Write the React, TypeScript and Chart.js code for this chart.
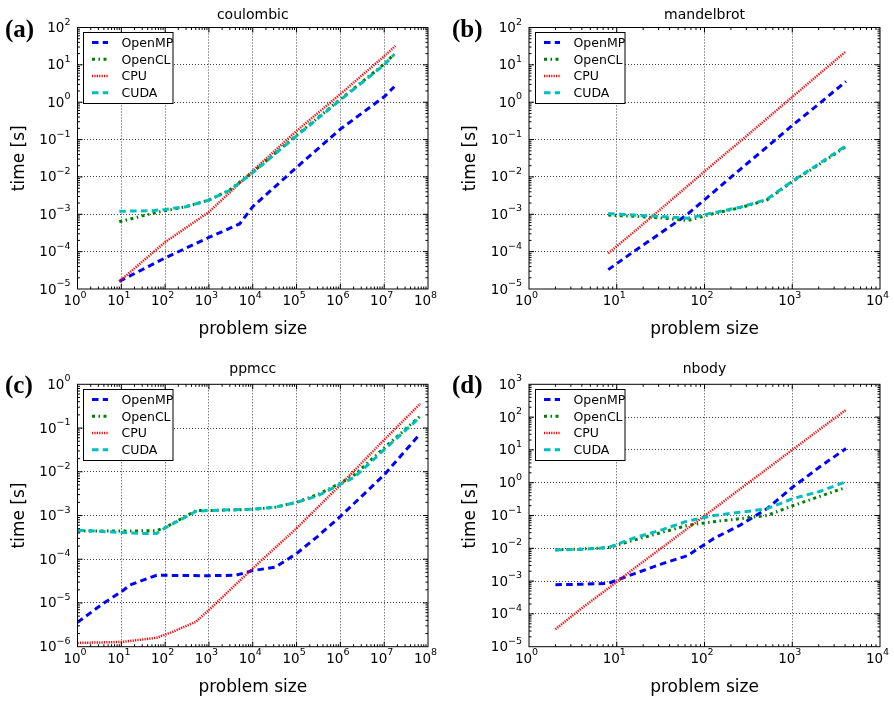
import React, { useEffect, useRef } from 'react';
import { Chart, registerables } from 'chart.js';

Chart.register(...registerables);

// ---------------- data ----------------
const SERIES_NAMES = ['OpenMP', 'OpenCL', 'CPU', 'CUDA'];

// (a) coulombic
const coulombicOpenMPX = [9, 100, 1000, 5000, 1e4, 1e5, 1e6, 1e7, 1.7e7];
const coulombicOpenMPY = [1.6e-5, 6.8e-5, 2.4e-4, 5.5e-4, 1.6e-3, 1.8e-2, 0.19, 1.4, 2.6];
const coulombicOpenCLX = [9, 20, 50, 100, 300, 1000, 3000, 1e4, 1e5, 1e6, 1e7, 1.7e7];
const coulombicOpenCLY = [6.3e-4, 8e-4, 1.05e-3, 1.25e-3, 1.6e-3, 2.4e-3, 4.5e-3, 1.35e-2, 0.13, 1.2, 10.5, 19.5];
const coulombicCPUX = [9, 100, 1000, 1e4, 1e5, 1e6, 1e7, 1.8e7];
const coulombicCPUY = [1.6e-5, 1.8e-4, 1.15e-3, 1.45e-2, 0.17, 1.65, 17, 32];
const coulombicCUDAX = [9, 50, 100, 300, 1000, 3000, 1e4, 1e5, 1e6, 1e7, 1.7e7];
const coulombicCUDAY = [1.2e-3, 1.25e-3, 1.35e-3, 1.6e-3, 2.4e-3, 4.4e-3, 1.3e-2, 0.125, 1.15, 10, 19];

// (b) mandelbrot
const mandelbrotX = [8, 16, 32, 64, 128, 256, 512, 1024, 2048, 4096];
const mandelbrotOpenMPY = [3.3e-5, 1.05e-4, 3.2e-4, 1e-3, 4e-3, 1.6e-2, 6.3e-2, 0.25, 0.93, 3.6];
const mandelbrotOpenCLY = [9.5e-4, 8.8e-4, 8e-4, 6.8e-4, 1.05e-3, 1.5e-3, 2.4e-3, 7.8e-3, 2.2e-2, 6.5e-2];
const mandelbrotCPUY = [9e-5, 3.5e-4, 1.4e-3, 5.7e-3, 2.3e-2, 9e-2, 0.36, 1.45, 5.8, 23];
const mandelbrotCUDAY = [1.05e-3, 9.5e-4, 8.7e-4, 7.8e-4, 1.1e-3, 1.55e-3, 2.5e-3, 8e-3, 2.3e-2, 6.8e-2];

// (c) ppmcc
const ppmccOpenMPX = [1, 4, 10, 16, 64, 1000, 4096, 1e4, 32768, 1e5, 3e5, 1e6, 1e7, 6.7e7];
const ppmccOpenMPY = [3.6e-6, 1e-5, 1.8e-5, 2.6e-5, 4.3e-5, 4.2e-5, 4.3e-5, 5.5e-5, 6.6e-5, 1.35e-4, 3.3e-4, 9.5e-4, 8.5e-3, 7.5e-2];
const ppmccOpenCLX = [1, 10, 64, 100, 512, 1000, 1e4, 32768, 1e5, 3e5, 1e6, 2.1e6, 1e7, 6.7e7];
const ppmccOpenCLY = [4.4e-4, 4.4e-4, 4.5e-4, 5.3e-4, 1.3e-3, 1.3e-3, 1.38e-3, 1.55e-3, 2e-3, 3e-3, 5.5e-3, 8.5e-3, 3.5e-2, 0.19];
const ppmccCPUX = [1, 10, 64, 150, 500, 1000, 1e4, 1e5, 1e6, 1e7, 6.7e7];
const ppmccCPUY = [1.22e-6, 1.28e-6, 1.6e-6, 2.2e-6, 3.7e-6, 6.9e-6, 6.2e-5, 5.1e-4, 5e-3, 5.4e-2, 0.36];
const ppmccCUDAX = [1, 10, 30, 64, 100, 512, 1000, 1e4, 32768, 1e5, 3e5, 1e6, 2.1e6, 1e7, 6.7e7];
const ppmccCUDAY = [4.6e-4, 4.1e-4, 3.9e-4, 3.9e-4, 5.2e-4, 1.25e-3, 1.3e-3, 1.4e-3, 1.55e-3, 2e-3, 2.8e-3, 5.2e-3, 7.5e-3, 3.2e-2, 0.18];

// (d) nbody
const nbodyX = [2, 4, 8, 16, 32, 64, 128, 256, 512, 1024, 2048, 4096];
const nbodyOpenMPY = [7.8e-4, 8e-4, 8.5e-4, 1.7e-3, 3.3e-3, 6e-3, 2e-2, 5.1e-2, 0.16, 0.75, 3, 11];
const nbodyOpenCLY = [9e-3, 9.5e-3, 1.05e-2, 1.8e-2, 3e-2, 5e-2, 6.5e-2, 8e-2, 0.1, 0.2, 0.38, 0.72];
const nbodyCPUY = [3.4e-5, 1.5e-4, 6e-4, 2.5e-3, 1e-2, 4e-2, 0.16, 0.65, 2.6, 10.5, 42, 166];
const nbodyCUDAY = [8.9e-3, 9.3e-3, 1.05e-2, 2.1e-2, 3.6e-2, 6.8e-2, 0.1, 0.125, 0.16, 0.33, 0.54, 1.07];

// ---------------- styles ----------------
const FONT = '"DejaVu Sans", sans-serif';
const SERIES_STYLES = [
  { color: '#0000ff', width: 3, dash: [6.5, 4.3] },
  { color: '#008000', width: 3, dash: [3, 3.5, 1.5, 3.5] },
  { color: '#ff0000', width: 2.5, dash: [1.2, 1.2] },
  { color: '#00bfbf', width: 3, dash: [6.5, 4.3] },
];

type Series = { x: number[]; y: number[] };
type Panel = {
  title: string;
  letter: string;
  series: Series[];
  xExp: [number, number];
  yExp: [number, number];
  box: { cx: number; cy: number; cw: number; ch: number };
  plot: { l: number; t: number; r: number; b: number };
  titleBase: number;
  letterBase: number;
};

const PANELS: Panel[] = [
  {
    title: 'coulombic', letter: '(a)',
    series: [
      { x: coulombicOpenMPX, y: coulombicOpenMPY },
      { x: coulombicOpenCLX, y: coulombicOpenCLY },
      { x: coulombicCPUX, y: coulombicCPUY },
      { x: coulombicCUDAX, y: coulombicCUDAY },
    ],
    xExp: [0, 8], yExp: [-5, 2],
    box: { cx: 0, cy: 0, cw: 447, ch: 350 },
    plot: { l: 77.5, t: 27.5, r: 428, b: 289 },
    titleBase: 19, letterBase: 37,
  },
  {
    title: 'mandelbrot', letter: '(b)',
    series: [
      { x: mandelbrotX, y: mandelbrotOpenMPY },
      { x: mandelbrotX, y: mandelbrotOpenCLY },
      { x: mandelbrotX, y: mandelbrotCPUY },
      { x: mandelbrotX, y: mandelbrotCUDAY },
    ],
    xExp: [0, 4], yExp: [-5, 2],
    box: { cx: 447, cy: 0, cw: 447, ch: 350 },
    plot: { l: 529, t: 27.5, r: 880, b: 289 },
    titleBase: 19, letterBase: 37,
  },
  {
    title: 'ppmcc', letter: '(c)',
    series: [
      { x: ppmccOpenMPX, y: ppmccOpenMPY },
      { x: ppmccOpenCLX, y: ppmccOpenCLY },
      { x: ppmccCPUX, y: ppmccCPUY },
      { x: ppmccCUDAX, y: ppmccCUDAY },
    ],
    xExp: [0, 8], yExp: [-6, 0],
    box: { cx: 0, cy: 350, cw: 447, ch: 351 },
    plot: { l: 77.5, t: 384.3, r: 428, b: 646.7 },
    titleBase: 372.7, letterBase: 392.5,
  },
  {
    title: 'nbody', letter: '(d)',
    series: [
      { x: nbodyX, y: nbodyOpenMPY },
      { x: nbodyX, y: nbodyOpenCLY },
      { x: nbodyX, y: nbodyCPUY },
      { x: nbodyX, y: nbodyCUDAY },
    ],
    xExp: [0, 4], yExp: [-5, 3],
    box: { cx: 447, cy: 350, cw: 447, ch: 351 },
    plot: { l: 529, t: 384.3, r: 880, b: 646.7 },
    titleBase: 373, letterBase: 392.5,
  },
];

function drawPow(ctx: CanvasRenderingContext2D, exp: number, x: number, base: number, align: 'center' | 'right') {
  const main = '10';
  const sup = exp < 0 ? '\u2212' + String(-exp) : String(exp);
  ctx.font = `13.5px ${FONT}`;
  const wm = ctx.measureText(main).width;
  ctx.font = `9.5px ${FONT}`;
  const ws = ctx.measureText(sup).width;
  const total = wm + ws;
  const left = align === 'center' ? x - total / 2 - 2.5 : x - total;
  ctx.textAlign = 'left';
  ctx.textBaseline = 'alphabetic';
  ctx.fillStyle = '#000';
  ctx.font = `13.5px ${FONT}`;
  ctx.fillText(main, left, base);
  ctx.font = `9.5px ${FONT}`;
  ctx.fillText(sup, left + wm, base - 7.5);
}

function decorPlugin(p: Panel) {
  return {
    id: 'decor',
    afterDraw(chart: any) {
      const ctx: CanvasRenderingContext2D = chart.ctx;
      const xs = chart.scales.x;
      const ys = chart.scales.y;
      const { left, right, top, bottom } = chart.chartArea;
      const oy = p.box.cy;
      ctx.save();
      // frame
      ctx.setLineDash([]);
      ctx.strokeStyle = '#000';
      ctx.lineWidth = 1;
      ctx.strokeRect(left, top, right - left, bottom - top);
      // inward ticks (major + minor) on all four sides
      ctx.beginPath();
      for (let e = p.xExp[0]; e < p.xExp[1]; e++) {
        for (let k = 1; k <= 9; k++) {
          if (k === 1 && e === p.xExp[0]) continue;
          const px = xs.getPixelForValue(k * Math.pow(10, e));
          const len = k === 1 ? 5 : 2.5;
          ctx.moveTo(px, bottom); ctx.lineTo(px, bottom - len);
          ctx.moveTo(px, top); ctx.lineTo(px, top + len);
        }
      }
      for (let e = p.yExp[0]; e < p.yExp[1]; e++) {
        for (let k = 1; k <= 9; k++) {
          if (k === 1 && e === p.yExp[0]) continue;
          const py = ys.getPixelForValue(k * Math.pow(10, e));
          const len = k === 1 ? 5 : 2.5;
          ctx.moveTo(left, py); ctx.lineTo(left + len, py);
          ctx.moveTo(right, py); ctx.lineTo(right - len, py);
        }
      }
      ctx.stroke();
      // tick labels
      for (let e = p.xExp[0]; e <= p.xExp[1]; e++) {
        const px = xs.getPixelForValue(Math.pow(10, e));
        drawPow(ctx, e, px, bottom + 16, 'center');
      }
      for (let e = p.yExp[0]; e <= p.yExp[1]; e++) {
        const py = ys.getPixelForValue(Math.pow(10, e));
        drawPow(ctx, e, left - 7, py + 4.5, 'right');
      }
      // title
      ctx.fillStyle = '#000';
      ctx.font = `14px ${FONT}`;
      ctx.textAlign = 'center';
      ctx.textBaseline = 'alphabetic';
      ctx.fillText(p.title, (left + right) / 2, p.titleBase - oy);
      // axis labels
      ctx.font = `17px ${FONT}`;
      ctx.fillText('problem size', (left + right) / 2, bottom + 45);
      ctx.save();
      ctx.translate(left - 54, (top + bottom) / 2);
      ctx.rotate(-Math.PI / 2);
      ctx.fillText('time [s]', 0, 0);
      ctx.restore();
      // panel letter
      ctx.font = `bold 25px "Liberation Serif", serif`;
      ctx.textAlign = 'left';
      ctx.fillText(p.letter, 5, p.letterBase - oy);
      // legend
      const lx = Math.round(left + 5.5) + 0.5;
      const ly = Math.round(top + 4.5) + 0.5;
      const lw = 89.5;
      const lh = 71;
      ctx.fillStyle = '#fff';
      ctx.fillRect(lx, ly, lw, lh);
      ctx.strokeStyle = '#000';
      ctx.lineWidth = 1;
      ctx.strokeRect(lx, ly, lw, lh);
      chart.data.datasets.forEach((ds: any, i: number) => {
        const yy = ly + 10 + i * 16.75;
        ctx.save();
        ctx.setLineDash(ds.borderDash);
        ctx.lineCap = 'butt';
        ctx.lineWidth = ds.borderWidth;
        ctx.strokeStyle = ds.borderColor;
        ctx.beginPath();
        ctx.moveTo(lx + 8.5, yy);
        ctx.lineTo(lx + 24.5, yy);
        ctx.stroke();
        ctx.restore();
        ctx.fillStyle = '#000';
        ctx.font = `12.5px ${FONT}`;
        ctx.textAlign = 'left';
        ctx.textBaseline = 'alphabetic';
        ctx.fillText(ds.label, lx + 38, yy + 4.3);
      });
      ctx.restore();
    },
  };
}

function decades(a: number, b: number) {
  const out: { value: number; major: boolean }[] = [];
  for (let e = a; e <= b; e++) out.push({ value: Math.pow(10, e), major: true });
  return out;
}

function PanelChart({ p }: { p: Panel }) {
  const ref = useRef<HTMLCanvasElement | null>(null);
  useEffect(() => {
    if (!ref.current) return;
    const { cx, cy, cw, ch } = p.box;
    const gridColor = (min: number, max: number) => (c: any) => {
      const v = c.tick ? c.tick.value : 0;
      if (Math.abs(Math.log10(v) - min) < 1e-6 || Math.abs(Math.log10(v) - max) < 1e-6) return 'rgba(0,0,0,0)';
      return 'rgba(0,0,0,0.75)';
    };
    const chart = new Chart(ref.current, {
      type: 'line',
      data: {
        datasets: p.series.map((s, i) => ({
          label: SERIES_NAMES[i],
          data: s.x.map((x, j) => ({ x, y: s.y[j] })),
          borderColor: SERIES_STYLES[i].color,
          backgroundColor: SERIES_STYLES[i].color,
          borderWidth: SERIES_STYLES[i].width,
          borderDash: SERIES_STYLES[i].dash,
          borderCapStyle: 'butt',
          pointRadius: 0,
          tension: 0,
          fill: false,
          order: 3 - i,
        })),
      },
      options: {
        responsive: false,
        animation: false,
        devicePixelRatio: 1,
        events: [],
        layout: { padding: { left: 0, top: p.plot.t - cy, right: cx + cw - p.plot.r, bottom: 0 } },
        plugins: { legend: { display: false }, title: { display: false }, tooltip: { enabled: false } },
        scales: {
          x: {
            type: 'logarithmic',
            min: Math.pow(10, p.xExp[0]),
            max: Math.pow(10, p.xExp[1]),
            ticks: { display: false },
            grid: { drawTicks: false, color: gridColor(p.xExp[0], p.xExp[1]), lineWidth: 1 },
            border: { display: false, dash: [1, 2] },
            afterBuildTicks: (s: any) => { s.ticks = decades(p.xExp[0], p.xExp[1]); },
            afterFit: (s: any) => { s.height = cy + ch - p.plot.b; },
          },
          y: {
            type: 'logarithmic',
            min: Math.pow(10, p.yExp[0]),
            max: Math.pow(10, p.yExp[1]),
            ticks: { display: false },
            grid: { drawTicks: false, color: gridColor(p.yExp[0], p.yExp[1]), lineWidth: 1 },
            border: { display: false, dash: [1, 2] },
            afterBuildTicks: (s: any) => { s.ticks = decades(p.yExp[0], p.yExp[1]); },
            afterFit: (s: any) => { s.width = p.plot.l - cx; },
          },
        },
      } as any,
      plugins: [decorPlugin(p)],
    });
    return () => chart.destroy();
  }, [p]);
  return (
    <canvas
      ref={ref}
      width={p.box.cw}
      height={p.box.ch}
      style={{ position: 'absolute', left: p.box.cx, top: p.box.cy, width: p.box.cw, height: p.box.ch }}
    />
  );
}

export default function App() {
  useEffect(() => {
    document.body.style.margin = '0';
    document.body.style.background = '#fff';
  }, []);
  return (
    <div style={{ position: 'relative', width: 894, height: 701, background: '#fff', overflow: 'hidden' }}>
      {PANELS.map((p) => (
        <PanelChart key={p.title} p={p} />
      ))}
    </div>
  );
}
